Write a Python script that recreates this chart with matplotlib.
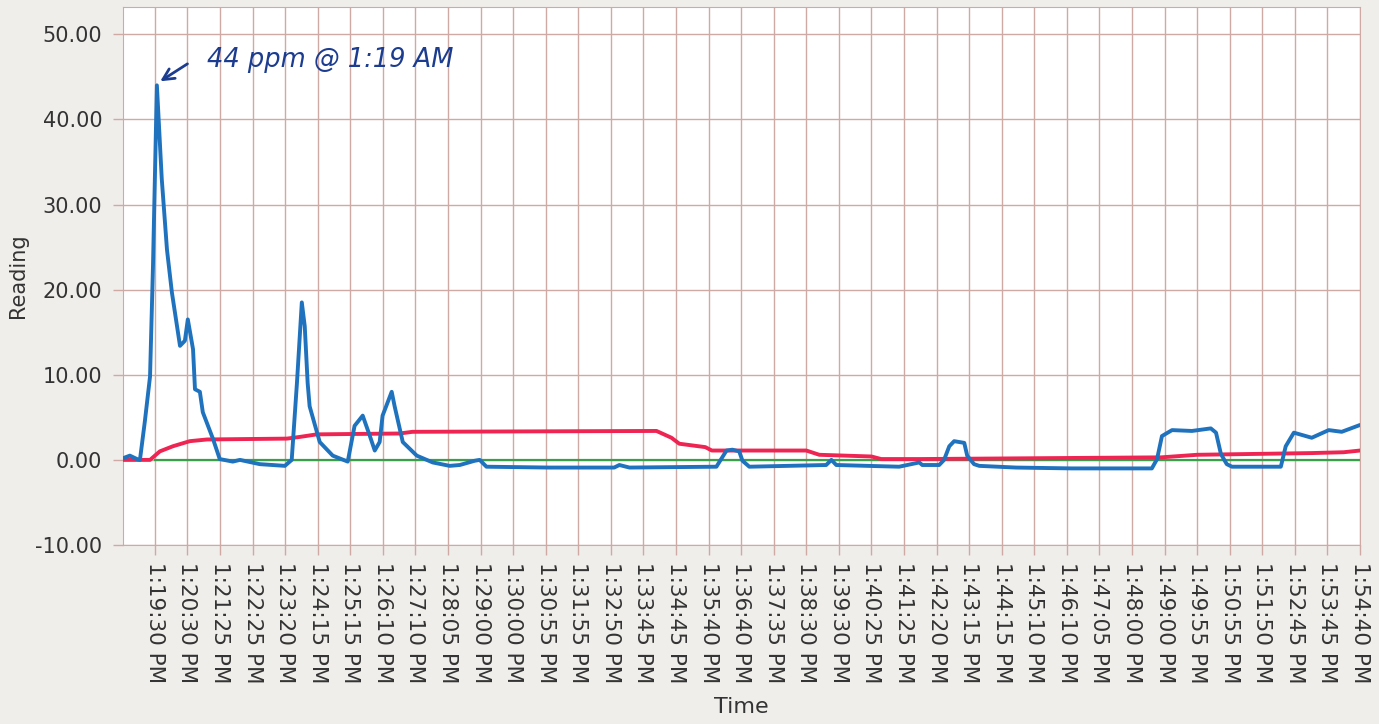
import matplotlib
matplotlib.use("Agg")
import matplotlib.pyplot as plt

# tick labels (equally spaced on the chart)
tick_labels = ["1:19:30 PM", "1:20:30 PM", "1:21:25 PM", "1:22:25 PM", "1:23:20 PM",
               "1:24:15 PM", "1:25:15 PM", "1:26:10 PM", "1:27:10 PM", "1:28:05 PM",
               "1:29:00 PM", "1:30:00 PM", "1:30:55 PM", "1:31:55 PM", "1:32:50 PM",
               "1:33:45 PM", "1:34:45 PM", "1:35:40 PM", "1:36:40 PM", "1:37:35 PM",
               "1:38:30 PM", "1:39:30 PM", "1:40:25 PM", "1:41:25 PM", "1:42:20 PM",
               "1:43:15 PM", "1:44:15 PM", "1:45:10 PM", "1:46:10 PM", "1:47:05 PM",
               "1:48:00 PM", "1:49:00 PM", "1:49:55 PM", "1:50:55 PM", "1:51:50 PM",
               "1:52:45 PM", "1:53:45 PM", "1:54:40 PM"]

# blue trace, x in tick-index units
blue_x = [-0.98, -0.77, -0.55, -0.46, -0.31, -0.15, -0.06, 0.06, 0.21, 0.37, 0.52,
          0.77, 0.92, 1.01, 1.17, 1.23, 1.38, 1.47, 1.78, 1.99, 2.39, 2.61, 3.22,
          3.99, 4.20, 4.36, 4.51, 4.60, 4.69, 4.75, 5.06, 5.46, 5.92, 6.13, 6.38,
          6.60, 6.75, 6.90, 6.99, 7.27, 7.36, 7.61, 8.04, 8.53, 9.05, 9.36, 9.82,
          9.97, 10.18, 12.1, 14.1, 14.26, 14.57, 17.24, 17.55, 17.73, 17.94, 18.04,
          18.25, 20.61, 20.77, 20.92, 22.85, 23.47, 23.56, 24.08, 24.23, 24.39,
          24.54, 24.85, 24.94, 25.15, 25.31, 26.44, 28.16, 30.61, 30.77, 30.92,
          31.23, 31.84, 32.42, 32.58, 32.73, 32.91, 33.07, 34.57, 34.72, 34.97,
          35.52, 36.04, 36.44, 37.0]
blue_y = [0.2, 0.5, 0.1, 0.0, 4.5, 9.8, 22.7, 44.0, 33.0, 24.7, 19.7,
          13.4, 14.0, 16.5, 13.0, 8.3, 8.0, 5.6, 2.5, 0.1, -0.2, 0.0, -0.5,
          -0.7, 0.0, 9.0, 18.5, 15.7, 9.0, 6.3, 2.1, 0.5, -0.2, 4.0, 5.2,
          2.8, 1.1, 2.1, 5.2, 8.0, 6.3, 2.1, 0.5, -0.3, -0.7, -0.6, -0.1,
          0.0, -0.8, -0.9, -0.9, -0.6, -0.9, -0.8, 1.1, 1.2, 1.0, -0.1,
          -0.8, -0.6, 0.0, -0.6, -0.8, -0.3, -0.6, -0.6, 0.0, 1.6,
          2.2, 2.0, 0.5, -0.5, -0.7, -0.9, -1.0, -1.0, 0.1, 2.8,
          3.5, 3.4, 3.7, 3.2, 0.7, -0.5, -0.8, -0.8, 1.6, 3.2,
          2.6, 3.5, 3.3, 4.1]

# red trace
red_x = [-0.98, -0.15, 0.15, 0.55, 1.07, 1.6, 4.05, 4.45, 4.97, 7.51, 7.91,
         15.4, 15.86, 16.1, 16.9, 17.1, 20.0, 20.4, 22.0, 22.3, 23.5, 30.9,
         32.0, 35.5, 36.5, 37.0]
red_y = [0.0, 0.0, 1.0, 1.6, 2.2, 2.4, 2.5, 2.7, 3.0, 3.1, 3.3,
         3.4, 2.6, 1.9, 1.5, 1.1, 1.1, 0.6, 0.4, 0.1, 0.1, 0.3,
         0.6, 0.8, 0.9, 1.1]

# green trace
green_x = [0.0, 37.0]
green_y = [0.0, 0.0]

grid_c = "#cfa9a4"
txt_c = "#333333"
ink = "#1c3d8f"

fig = plt.figure(figsize=(13.79, 7.24), dpi=100, facecolor="#f0eeeb")
ax = fig.add_axes([0.0892, 0.2472, 0.8970, 0.7431])
ax.set_facecolor("white")

ax.plot(green_x, green_y, color="#3a9e4a", lw=1.6, zorder=3)
ax.plot(red_x, red_y, color="#ee2453", lw=2.8, zorder=4,
        solid_joinstyle="round", solid_capstyle="round")
ax.plot(blue_x, blue_y, color="#1f72bd", lw=2.8, zorder=5,
        solid_joinstyle="round", solid_capstyle="round")

ax.set_xlim(-0.98, 37.0)
ax.set_ylim(-10, 53.2)
ax.set_xticks(range(len(tick_labels)))
ax.set_xticklabels(tick_labels, rotation=270, fontsize=15.5, color=txt_c)
ax.set_yticks(range(-10, 51, 10))
ax.set_yticklabels(["%.2f" % v for v in range(-10, 51, 10)], fontsize=15, color=txt_c)
ax.grid(True, color=grid_c, lw=1.0)
ax.set_axisbelow(True)
for s in ax.spines.values():
    s.set_color(grid_c)
ax.tick_params(axis="both", color=grid_c, length=7, width=1.0)
ax.tick_params(axis="x", pad=5)
ax.tick_params(axis="y", pad=8)

ax.set_xlabel("Time", fontsize=16, color=txt_c, labelpad=10)
ax.set_ylabel("Reading", fontsize=15, color=txt_c, labelpad=5)

# handwritten note
ax.annotate("", xy=(0.09, 44.3), xytext=(1.07, 46.7),
            arrowprops=dict(arrowstyle="->", color=ink, lw=2.0, mutation_scale=20))
ax.text(1.6, 47.0, "44 ppm @ 1:19 AM", fontsize=18.5, color=ink,
        fontstyle="italic", va="center", ha="left")

fig.savefig("out.png", dpi=100, facecolor=fig.get_facecolor())
